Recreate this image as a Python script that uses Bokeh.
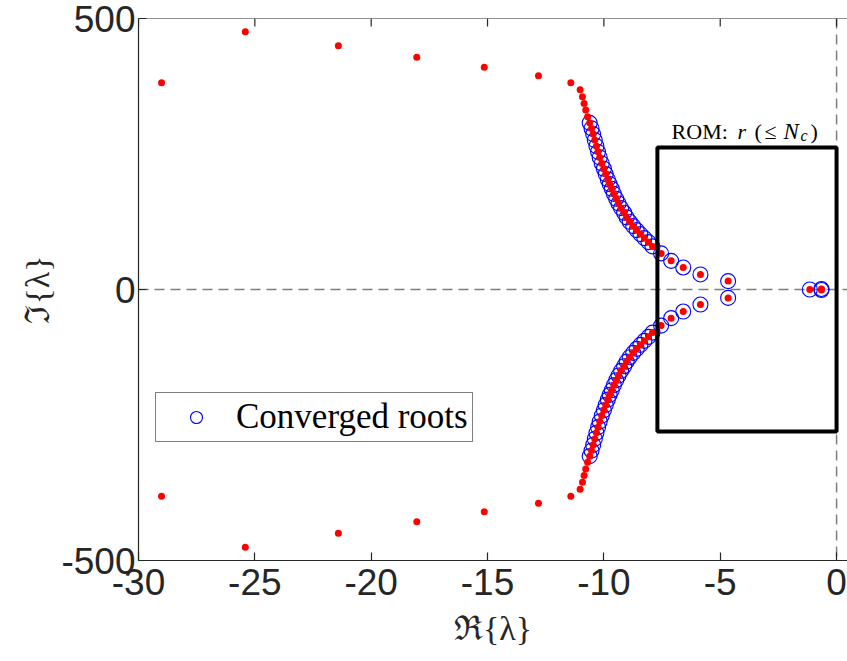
from bokeh.plotting import figure
from bokeh.models import Span, Label, Title, FixedTicker, Legend, LegendItem
from bokeh.embed import file_html
from bokeh.resources import INLINE

# ---- data -------------------------------------------------------------
# Roots that did not converge (outer arc), upper and lower half-plane
arc_re_upper = [-29.01, -25.41, -21.41, -18.04, -15.14, -12.81, -11.42,
                -11.02, -10.92, -10.85, -10.78, -10.70]
arc_im_upper = [381.5, 475.4, 449.8, 428.7, 410.2, 394.5, 381.5,
                368.6, 355.5, 343.3, 331.0, 318.6]
arc_re_lower = [-29.01, -25.41, -21.41, -18.04, -15.14, -12.81, -11.42,
                -11.02, -10.92, -10.85, -10.78, -10.70]
arc_im_lower = [-381.5, -475.4, -449.8, -428.7, -410.2, -394.5, -381.5,
                -368.6, -355.5, -343.3, -331.0, -318.6]

# Converged roots, upper and lower half-plane
conv_re_upper = [-10.61, -10.53, -10.46, -10.39, -10.32, -10.25, -10.18,
                 -10.09, -10.00, -9.92, -9.83, -9.75, -9.66, -9.57, -9.47,
                 -9.37, -9.26, -9.13, -9.02, -8.89, -8.74, -8.59, -8.43,
                 -8.26, -8.08, -7.91, -7.54, -7.11, -6.59, -5.85, -4.66]
conv_im_upper = [307.5, 297.2, 286.7, 275.6, 264.5, 254.0, 243.7, 232.6,
                 222.7, 212.9, 203.1, 194.4, 185.8, 176.5, 167.3, 158.8,
                 150.1, 141.5, 133.0, 124.9, 116.9, 109.6, 102.2, 94.8,
                 87.4, 79.5, 66.6, 52.9, 40.7, 27.8, 15.5]
conv_re_lower = [-10.61, -10.53, -10.46, -10.39, -10.32, -10.25, -10.18,
                 -10.09, -10.00, -9.92, -9.83, -9.75, -9.66, -9.57, -9.47,
                 -9.37, -9.26, -9.13, -9.02, -8.89, -8.74, -8.59, -8.43,
                 -8.26, -8.08, -7.91, -7.54, -7.11, -6.59, -5.85, -4.66]
conv_im_lower = [-307.5, -297.2, -286.7, -275.6, -264.5, -254.0, -243.7, -232.6,
                 -222.7, -212.9, -203.1, -194.4, -185.8, -176.5, -167.3, -158.8,
                 -150.1, -141.5, -133.0, -124.9, -116.9, -109.6, -102.2, -94.8,
                 -87.4, -79.5, -66.6, -52.9, -40.7, -27.8, -15.5]
# Slow roots close to the imaginary axis
conv_re_axis = [-1.15, -0.65, -0.65]
conv_im_axis = [0.0, 1.0, -1.0]

# Reduced-order-model window
rom_left, rom_right = -7.7, 0.0
rom_bottom, rom_top = -262.0, 262.0

x_ticks = [-30, -25, -20, -15, -10, -5, 0]
x_tick_labels = ["-30", "-25", "-20", "-15", "-10", "-5", "0"]
y_ticks = [-500, 0, 500]
y_tick_labels = ["-500", "0", "500"]

conv_re = conv_re_upper + conv_re_lower + conv_re_axis
conv_im = conv_im_upper + conv_im_lower + conv_im_axis
all_re = arc_re_upper + arc_re_lower + conv_re
all_im = arc_im_upper + arc_im_lower + conv_im

# ---- figure -----------------------------------------------------------
AXIS_COLOR = "#262626"
TICK_FONT = "Liberation Sans"
SERIF = "Liberation Serif"
X_MIN, X_MAX = -30, 0.47
Y_MIN, Y_MAX = -500, 500
FRAME_H = 661 - 18 - 101          # plot-area height in px
TICK_PX = 8                       # inward tick length in px

p = figure(width=847, height=661, x_range=(X_MIN, X_MAX), y_range=(Y_MIN, Y_MAX),
           output_backend="svg", toolbar_location=None,
           min_border_left=138, min_border_right=0,
           min_border_top=18, min_border_bottom=101)
p.outline_line_color = None
p.grid.visible = False
p.background_fill_color = "white"
p.border_fill_color = "white"

bottom_axis = p.below[0]
left_axis = p.left[0]

bottom_axis.ticker = FixedTicker(ticks=x_ticks)
left_axis.ticker = FixedTicker(ticks=y_ticks)
bottom_axis.major_label_overrides = dict(zip(x_ticks, x_tick_labels))
left_axis.major_label_overrides = dict(zip(y_ticks, y_tick_labels))

for ax in [bottom_axis, left_axis]:
    ax.axis_line_color = AXIS_COLOR
    ax.axis_line_width = 1.2
    ax.major_tick_line_color = AXIS_COLOR
    ax.major_tick_line_width = 1.2
    ax.major_tick_in = TICK_PX
    ax.major_tick_out = 0
    ax.minor_tick_line_color = None
    ax.major_label_text_color = AXIS_COLOR
    ax.major_label_text_font = TICK_FONT
    ax.major_label_text_font_size = "37px"

bottom_axis.axis_label = "ℜ{λ}"
bottom_axis.axis_label_text_font = SERIF
bottom_axis.axis_label_text_font_size = "34px"
bottom_axis.axis_label_text_font_style = "normal"
bottom_axis.axis_label_text_color = AXIS_COLOR
bottom_axis.major_label_standoff = 8
bottom_axis.axis_label_standoff = 12
left_axis.major_label_standoff = 3

# vertical axis title, set a little above the axis centre
p.add_layout(Title(text="ℑ{λ}", align="center", offset=37, standoff=6,
                   text_font=SERIF, text_font_size="34px",
                   text_font_style="normal", text_color=AXIS_COLOR), "left")

# top frame line with inward ticks
p.add_layout(Span(location=Y_MAX, dimension="width", line_color=AXIS_COLOR,
                  line_width=1.2))
tick_len = TICK_PX * (Y_MAX - Y_MIN) / FRAME_H
p.segment(x0=x_ticks, y0=[Y_MAX] * len(x_ticks), x1=x_ticks,
          y1=[Y_MAX - tick_len] * len(x_ticks),
          line_color=AXIS_COLOR, line_width=1.2)

# dashed zero lines
for dim in ["width", "height"]:
    p.add_layout(Span(location=0, dimension=dim, line_color="#7f7f7f",
                      line_width=1.5, line_dash="10 6", level="underlay"))

# converged roots (blue rings) and all roots (red dots)
circ = p.scatter(conv_re, conv_im, marker="circle", size=15,
                 fill_color=None, line_color="#0000ff", line_width=1.1)
p.scatter(all_re, all_im, marker="circle", size=7,
          fill_color="#ff0000", line_color="#ff0000", line_width=0)

# ROM window
p.quad(left=[rom_left], right=[rom_right], bottom=[rom_bottom], top=[rom_top],
       fill_color=None, line_color="black", line_width=4)

# "ROM: r (≤ N_c)" caption above the window
pieces = [
    ("ROM:", -165, 16, "normal", "22px"),
    ("r", -99, 16, "italic", "22px"),
    ("(", -82, 16, "normal", "22px"),
    ("≤", -72, 16, "normal", "22px"),
    ("N", -53, 16, "italic", "23px"),
    ("c", -36, 12, "italic", "16px"),
    (")", -26, 16, "normal", "22px"),
]
for txt, dx, dy, style, size in pieces:
    p.add_layout(Label(x=rom_right, y=rom_top, x_offset=dx, y_offset=dy,
                       text=txt, text_font=SERIF, text_font_size=size,
                       text_font_style=style, text_color="black",
                       text_align="left", text_baseline="alphabetic"))

legend = Legend(items=[LegendItem(label="Converged roots", renderers=[circ])],
                location=(17, 118))
legend.border_line_color = "black"
legend.border_line_width = 1
legend.background_fill_color = "white"
legend.background_fill_alpha = 1
legend.label_text_font = SERIF
legend.label_text_font_size = "35px"
legend.label_text_color = "black"
legend.padding = 4
legend.margin = 0
legend.spacing = 0
legend.glyph_width = 72
legend.glyph_height = 30
legend.label_standoff = 4
p.add_layout(legend)

open("out.html", "w").write(file_html(p, INLINE))
